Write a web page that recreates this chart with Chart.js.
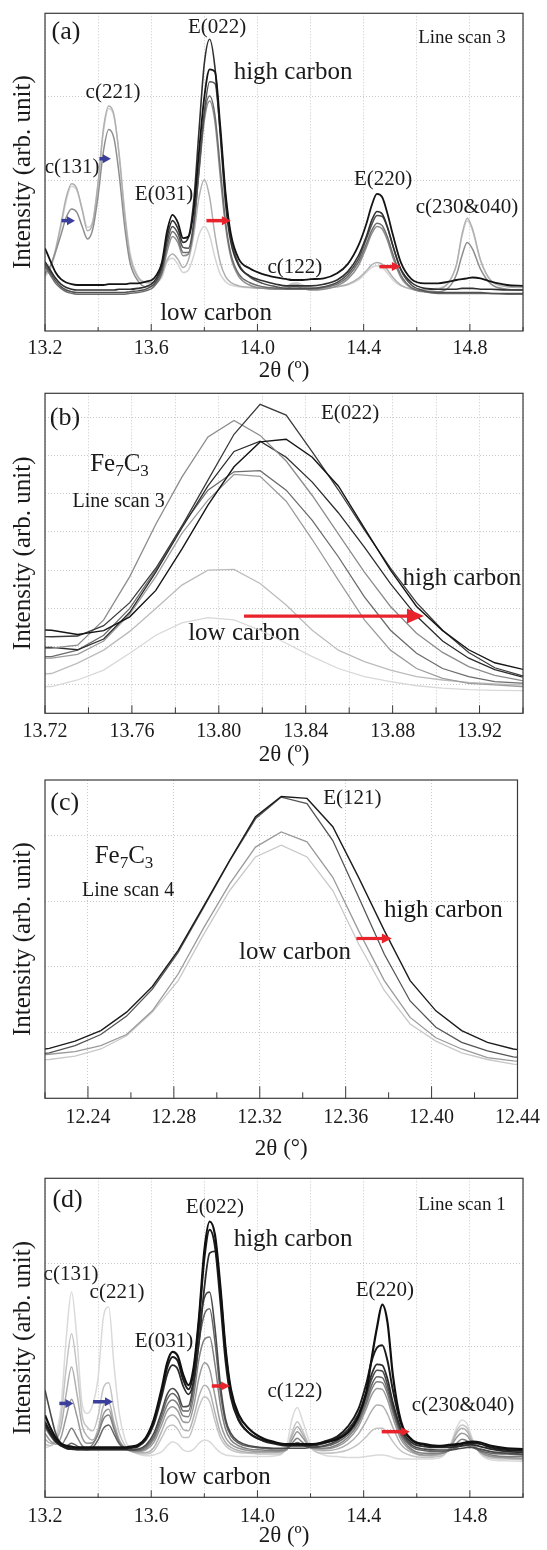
<!DOCTYPE html>
<html><head><meta charset="utf-8">
<script src="https://cdn.jsdelivr.net/npm/chart.js@4.4.1/dist/chart.umd.min.js"></script>
<style>
html,body{margin:0;padding:0;background:#fff;}
body{width:547px;height:1550px;position:relative;overflow:hidden;}
canvas{position:absolute;left:0;}
</style></head><body>
<canvas id="ca" width="547" height="385" style="top:0px;width:547px;height:385px"></canvas>
<canvas id="cb" width="547" height="385" style="top:385px;width:547px;height:385px"></canvas>
<canvas id="cc" width="547" height="393" style="top:770px;width:547px;height:393px"></canvas>
<canvas id="cd" width="547" height="387" style="top:1163px;width:547px;height:387px"></canvas>
<script>
// ---------- DATA ----------
// 2θ sample positions shared by panels (a) and (d)
const twoThetaWide = [13.20,13.22,13.24,13.26,13.28,13.30,13.32,13.34,13.36,13.38,13.40,13.42,13.44,13.46,13.48,13.50,13.52,
  13.55,13.58,13.61,13.64,
  13.66,13.68,13.70,13.72,13.74,13.76,13.78,13.80,13.82,13.84,13.86,13.88,13.90,
  13.93,13.97,14.02,14.07,
  14.11,14.13,14.15,14.17,14.20,
  14.25,14.30,14.34,14.38,
  14.41,14.43,14.45,14.47,14.49,14.51,
  14.54,14.58,14.63,14.68,14.72,
  14.75,14.77,14.79,14.81,
  14.84,14.88,14.94,15.00];

// Panel (a) Line scan 3, high carbon -> low carbon
const scan3_1 = [0.19,0.04,-0.10,-0.18,-0.22,-0.24,-0.25,-0.25,-0.25,-0.25,-0.25,-0.25,-0.24,-0.24,-0.24,-0.24,-0.23,
  -0.23,-0.21,-0.17,0.02,
  0.40,0.59,0.50,0.31,0.33,0.65,1.35,2.00,2.33,2.30,1.65,0.85,0.36,
  0.06,-0.05,-0.12,-0.16,
  -0.18,-0.19,-0.19,-0.19,-0.18,
  -0.17,-0.11,0.00,0.22,
  0.48,0.70,0.84,0.80,0.60,0.35,
  0.02,-0.18,-0.23,-0.23,-0.21,
  -0.19,-0.18,-0.17,-0.16,
  -0.17,-0.21,-0.25,-0.26];
const scan3_2 = [0.03,-0.07,-0.17,-0.24,-0.28,-0.30,-0.31,-0.31,-0.31,-0.31,-0.31,-0.31,-0.31,-0.31,-0.30,-0.30,-0.30,
  -0.29,-0.27,-0.21,-0.02,
  0.33,0.52,0.43,0.26,0.32,0.75,1.60,2.40,2.69,2.35,1.55,0.72,0.26,
  -0.02,-0.14,-0.20,-0.24,
  -0.26,-0.26,-0.26,-0.26,-0.26,
  -0.24,-0.19,-0.09,0.10,
  0.33,0.52,0.63,0.60,0.44,0.22,
  -0.06,-0.22,-0.29,-0.30,-0.30,
  -0.30,-0.29,-0.29,-0.29,
  -0.30,-0.30,-0.31,-0.31];
const scan3_3 = [0.00,-0.10,-0.20,-0.27,-0.31,-0.33,-0.34,-0.34,-0.34,-0.34,-0.34,-0.34,-0.34,-0.34,-0.34,-0.34,-0.33,
  -0.32,-0.30,-0.24,-0.06,
  0.27,0.45,0.37,0.20,0.19,0.50,1.15,1.82,2.18,2.16,1.58,0.82,0.32,
  0.00,-0.15,-0.23,-0.27,
  -0.29,-0.29,-0.29,-0.29,-0.29,
  -0.27,-0.22,-0.12,0.06,
  0.30,0.47,0.58,0.57,0.43,0.22,
  -0.07,-0.25,-0.32,-0.34,-0.34,
  -0.34,-0.34,-0.34,-0.34,
  -0.34,-0.35,-0.35,-0.35];
const scan3_4 = [-0.03,-0.13,-0.23,-0.29,-0.33,-0.35,-0.36,-0.36,-0.36,-0.36,-0.36,-0.36,-0.36,-0.36,-0.36,-0.36,-0.35,
  -0.34,-0.32,-0.27,-0.10,
  0.21,0.39,0.31,0.14,0.14,0.45,1.12,1.78,2.01,1.78,1.15,0.50,0.12,
  -0.12,-0.22,-0.27,-0.29,
  -0.30,-0.30,-0.30,-0.30,-0.30,
  -0.28,-0.24,-0.15,0.02,
  0.24,0.40,0.49,0.46,0.32,0.12,
  -0.13,-0.28,-0.33,-0.35,-0.35,
  -0.35,-0.35,-0.35,-0.35,
  -0.35,-0.35,-0.36,-0.36];
const scan3_5 = [-0.11,-0.02,0.15,0.35,0.56,0.66,0.62,0.45,0.30,0.42,0.82,1.35,1.61,1.50,1.05,0.45,0.02,
  -0.20,-0.27,-0.25,-0.12,
  0.15,0.33,0.26,0.10,0.12,0.45,1.10,1.72,1.95,1.70,1.05,0.45,0.08,
  -0.15,-0.25,-0.29,-0.30,
  -0.29,-0.27,-0.27,-0.29,-0.31,
  -0.30,-0.26,-0.18,-0.02,
  0.20,0.36,0.45,0.42,0.28,0.08,
  -0.16,-0.29,-0.33,-0.33,-0.28,
  -0.12,0.10,0.26,0.18,
  -0.06,-0.24,-0.30,-0.31];
const scan3_6 = [-0.13,-0.03,0.18,0.48,0.80,0.96,0.90,0.65,0.40,0.50,0.98,1.62,1.89,1.78,1.28,0.60,0.10,
  -0.16,-0.22,-0.22,-0.12,
  0.05,0.12,0.06,-0.04,0.05,0.35,0.80,1.01,0.80,0.35,0.02,-0.15,-0.22,
  -0.26,-0.28,-0.29,-0.29,
  -0.27,-0.24,-0.24,-0.27,-0.29,
  -0.29,-0.27,-0.24,-0.17,
  -0.08,-0.01,0.02,0.00,-0.07,-0.16,
  -0.25,-0.30,-0.31,-0.30,-0.22,
  0.00,0.35,0.55,0.42,
  0.05,-0.20,-0.27,-0.28];
const scan3_7 = [-0.15,-0.06,0.14,0.44,0.76,0.93,0.88,0.66,0.44,0.52,0.96,1.58,1.86,1.76,1.30,0.64,0.14,
  -0.14,-0.22,-0.23,-0.16,
  0.03,0.07,0.00,-0.10,-0.07,0.10,0.35,0.45,0.34,0.08,-0.12,-0.21,-0.25,
  -0.27,-0.28,-0.28,-0.28,
  -0.26,-0.23,-0.22,-0.25,-0.28,
  -0.28,-0.27,-0.25,-0.19,
  -0.10,-0.04,-0.02,-0.04,-0.11,-0.19,
  -0.26,-0.29,-0.30,-0.29,-0.22,
  0.00,0.33,0.52,0.40,
  0.04,-0.20,-0.26,-0.27];

// Panel (b) E(022) of Fe7C3, line scan 3
const twoThetaB = [13.711,13.723,13.735,13.747,13.759,13.771,13.783,13.795,13.807,13.819,13.831,13.843,13.855,13.867,13.879,13.891,13.903,13.915,13.927,13.939,13.951];
const e022_1 = [1.46,1.43,1.32,1.42,1.78,2.47,3.55,4.70,5.70,6.35,6.42,5.95,5.20,4.10,3.00,2.05,1.42,0.92,0.58,0.42,0.32];
const e022_2 = [1.28,1.26,1.28,1.55,2.15,3.05,4.15,5.35,6.55,7.33,7.05,6.09,5.10,4.05,3.05,2.15,1.43,0.85,0.45,0.25,0.15];
const e022_3 = [0.95,0.96,1.04,1.70,2.83,4.20,5.43,6.48,6.91,6.52,5.85,4.95,3.95,2.95,2.05,1.35,0.85,0.48,0.25,0.12,0.06];
const e022_4 = [0.98,0.98,0.92,1.20,1.90,2.95,4.10,5.20,6.10,6.37,5.95,5.30,4.50,3.60,2.65,1.80,1.15,0.70,0.40,0.22,0.14];
const e022_5 = [0.75,0.74,0.91,1.30,2.00,3.00,4.15,5.09,5.57,5.60,5.09,4.30,3.35,2.30,1.43,0.83,0.43,0.22,0.09,0.05,0.03];
const e022_6 = [0.70,0.70,0.80,1.15,1.85,2.83,3.96,4.83,5.50,5.45,4.80,3.80,2.74,1.70,0.91,0.43,0.17,0.04,0.00,-0.04,-0.06];
const e022_7 = [0.25,0.30,0.57,0.91,1.40,2.00,2.61,3.00,3.02,2.65,2.09,1.43,0.91,0.61,0.39,0.22,0.13,0.07,0.03,0.00,-0.02];
const e022_8 = [-0.05,-0.04,0.13,0.39,0.83,1.30,1.62,1.76,1.70,1.43,1.09,0.74,0.43,0.22,0.09,-0.02,-0.08,-0.12,-0.14,-0.15,-0.16];

// Panel (c) E(121) of Fe7C3, line scan 4
const twoThetaC = [12.210,12.222,12.234,12.246,12.258,12.270,12.282,12.294,12.306,12.318,12.330,12.342,12.354,12.366,12.378,12.390,12.402,12.414,12.426,12.438,12.450];
const e121_1 = [-0.30,-0.24,-0.13,0.03,0.31,0.70,1.25,1.93,2.62,3.28,3.59,3.56,3.13,2.36,1.55,0.79,0.33,0.03,-0.15,-0.25,-0.30];
const e121_2 = [-0.35,-0.31,-0.20,-0.03,0.25,0.66,1.22,1.91,2.61,3.25,3.58,3.48,2.92,2.06,1.19,0.48,0.08,-0.15,-0.28,-0.37,-0.40];
const e121_3 = [-0.36,-0.33,-0.29,-0.20,-0.03,0.33,0.89,1.60,2.26,2.82,3.05,2.90,2.36,1.55,0.79,0.23,-0.08,-0.25,-0.38,-0.43,-0.45];
const e121_4 = [-0.43,-0.41,-0.36,-0.25,-0.05,0.31,0.79,1.50,2.16,2.67,2.85,2.67,2.16,1.35,0.64,0.13,-0.13,-0.31,-0.41,-0.48,-0.50];

// Panel (d) Line scan 1, high carbon -> low carbon
const scan1_1 = [0.17,0.02,-0.10,-0.17,-0.20,-0.21,-0.22,-0.22,-0.22,-0.22,-0.22,-0.22,-0.22,-0.22,-0.22,-0.22,-0.21,
  -0.19,-0.10,0.12,0.50,
  0.80,0.93,0.88,0.66,0.53,0.75,1.35,2.15,2.50,2.34,1.73,0.97,0.48,
  0.17,0.00,-0.11,-0.16,
  -0.18,-0.18,-0.18,-0.18,-0.18,
  -0.16,-0.12,-0.04,0.15,
  0.45,0.85,1.22,1.50,1.28,0.65,
  0.10,-0.12,-0.18,-0.20,-0.19,
  -0.18,-0.17,-0.155,-0.15,
  -0.16,-0.20,-0.23,-0.24];
const scan1_2 = [0.09,-0.03,-0.13,-0.19,-0.22,-0.23,-0.23,-0.23,-0.23,-0.23,-0.23,-0.23,-0.23,-0.23,-0.23,-0.23,-0.22,
  -0.20,-0.11,0.10,0.46,
  0.74,0.87,0.82,0.60,0.48,0.70,1.30,2.05,2.40,2.20,1.55,0.82,0.38,
  0.10,-0.05,-0.13,-0.17,
  -0.19,-0.19,-0.19,-0.19,-0.19,
  -0.15,-0.09,0.03,0.24,
  0.55,0.82,0.98,1.01,0.82,0.47,
  0.07,-0.13,-0.19,-0.21,-0.20,
  -0.19,-0.18,-0.17,-0.165,
  -0.18,-0.22,-0.25,-0.26];
const scan1_3 = [0.05,-0.06,-0.15,-0.20,-0.23,-0.24,-0.24,-0.24,-0.24,-0.24,-0.24,-0.24,-0.24,-0.24,-0.24,-0.24,-0.23,
  -0.21,-0.13,0.06,0.40,
  0.66,0.77,0.72,0.52,0.42,0.58,1.05,1.70,2.12,2.14,1.68,0.95,0.45,
  0.12,-0.05,-0.14,-0.18,
  -0.20,-0.20,-0.20,-0.20,-0.20,
  -0.17,-0.11,-0.01,0.18,
  0.44,0.66,0.78,0.77,0.60,0.32,
  0.01,-0.16,-0.21,-0.22,-0.22,
  -0.21,-0.20,-0.19,-0.19,
  -0.21,-0.24,-0.27,-0.28];
const scan1_4 = [0.47,0.20,-0.05,-0.18,-0.23,-0.24,-0.25,-0.25,-0.25,-0.25,-0.25,-0.25,-0.25,-0.25,-0.25,-0.25,-0.25,
  -0.24,-0.19,-0.05,0.22,
  0.42,0.49,0.43,0.27,0.28,0.58,1.20,1.58,1.65,1.22,0.55,0.12,-0.05,
  -0.15,-0.20,-0.22,-0.23,
  -0.23,-0.23,-0.23,-0.23,-0.22,
  -0.20,-0.14,-0.04,0.14,
  0.39,0.60,0.71,0.70,0.53,0.27,
  -0.02,-0.19,-0.24,-0.25,-0.25,
  -0.24,-0.23,-0.22,-0.22,
  -0.24,-0.27,-0.29,-0.30];
const scan1_5 = [0.08,-0.04,-0.14,-0.20,-0.20,-0.17,-0.20,-0.24,-0.25,-0.22,-0.13,0.01,0.05,-0.06,-0.18,-0.23,-0.25,
  -0.25,-0.21,-0.09,0.17,
  0.36,0.43,0.37,0.22,0.22,0.50,1.05,1.38,1.45,1.05,0.45,0.08,-0.08,
  -0.17,-0.21,-0.23,-0.24,
  -0.23,-0.19,-0.16,-0.19,-0.22,
  -0.21,-0.16,-0.07,0.10,
  0.34,0.53,0.63,0.62,0.47,0.23,
  -0.05,-0.21,-0.26,-0.27,-0.26,
  -0.22,-0.20,-0.20,-0.22,
  -0.26,-0.29,-0.30,-0.31];
const scan1_6 = [0.02,-0.08,-0.16,-0.19,-0.10,0.01,-0.09,-0.20,-0.23,-0.18,-0.06,0.12,0.17,0.00,-0.16,-0.23,-0.25,
  -0.26,-0.23,-0.12,0.12,
  0.29,0.35,0.30,0.16,0.15,0.40,0.85,1.08,1.11,0.78,0.30,0.00,-0.13,
  -0.20,-0.24,-0.25,-0.26,
  -0.24,-0.17,-0.11,-0.16,-0.22,
  -0.23,-0.19,-0.10,0.07,
  0.30,0.48,0.57,0.56,0.42,0.20,
  -0.08,-0.24,-0.29,-0.29,-0.26,
  -0.17,-0.12,-0.14,-0.20,
  -0.27,-0.31,-0.33,-0.33];
const scan1_7 = [-0.05,-0.14,-0.18,-0.10,0.15,0.36,0.16,-0.10,-0.17,-0.16,-0.05,0.18,0.24,0.03,-0.15,-0.23,-0.26,
  -0.27,-0.25,-0.16,0.06,
  0.22,0.27,0.22,0.09,0.08,0.28,0.62,0.80,0.72,0.40,0.08,-0.10,-0.18,
  -0.23,-0.26,-0.27,-0.27,
  -0.25,-0.13,-0.03,-0.10,-0.22,
  -0.24,-0.21,-0.13,0.03,
  0.25,0.41,0.49,0.48,0.35,0.14,
  -0.12,-0.26,-0.31,-0.30,-0.25,
  -0.10,-0.05,-0.08,-0.18,
  -0.28,-0.33,-0.34,-0.35];
const scan1_8 = [-0.12,-0.17,-0.14,0.02,0.43,0.75,0.43,0.04,-0.09,-0.13,0.00,0.28,0.32,0.08,-0.13,-0.22,-0.26,
  -0.28,-0.28,-0.22,-0.02,
  0.13,0.17,0.12,0.00,-0.02,0.15,0.40,0.53,0.46,0.20,-0.04,-0.16,-0.22,
  -0.26,-0.28,-0.28,-0.28,
  -0.24,-0.08,0.03,-0.06,-0.22,
  -0.26,-0.24,-0.18,-0.06,
  0.10,0.22,0.29,0.28,0.18,0.02,
  -0.18,-0.28,-0.32,-0.31,-0.24,
  -0.05,0.01,-0.03,-0.16,
  -0.28,-0.33,-0.35,-0.36];
const scan1_9 = [-0.18,-0.20,-0.13,0.14,0.74,1.15,0.74,0.16,0.02,-0.02,0.16,0.50,0.56,0.24,-0.05,-0.19,-0.26,
  -0.29,-0.30,-0.26,-0.10,
  0.02,0.05,0.00,-0.10,-0.10,0.05,0.27,0.39,0.33,0.10,-0.10,-0.20,-0.25,
  -0.28,-0.29,-0.30,-0.30,
  -0.24,-0.04,0.09,-0.02,-0.22,
  -0.29,-0.28,-0.25,-0.18,
  -0.09,-0.02,0.01,0.01,-0.05,-0.15,
  -0.26,-0.32,-0.34,-0.33,-0.25,
  -0.02,0.05,0.01,-0.14,
  -0.29,-0.35,-0.36,-0.37];
const scan1_10 = [-0.22,-0.20,-0.09,0.26,1.10,1.65,1.10,0.30,0.19,0.30,0.62,1.35,1.47,0.76,0.18,-0.11,-0.24,
  -0.30,-0.32,-0.31,-0.27,
  -0.20,-0.15,-0.18,-0.25,-0.27,-0.24,-0.17,-0.13,-0.15,-0.22,-0.28,-0.31,-0.32,
  -0.33,-0.33,-0.33,-0.32,
  -0.20,0.12,0.26,0.10,-0.18,
  -0.31,-0.33,-0.34,-0.34,
  -0.33,-0.32,-0.31,-0.31,-0.32,-0.34,
  -0.36,-0.36,-0.36,-0.35,-0.24,
  0.02,0.11,0.06,-0.12,
  -0.30,-0.37,-0.38,-0.39];

// Axis ticks / labels
const gridWide = [13.2,13.4,13.6,13.8,14.0,14.2,14.4,14.6,14.8,15.0];
const labelsWide = ['13.2','13.6','14.0','14.4','14.8'];
const gridB = [13.72,13.74,13.76,13.78,13.80,13.82,13.84,13.86,13.88,13.90,13.92,13.94];
const labelsB = ['13.72','13.76','13.80','13.84','13.88','13.92'];
const gridC = [12.22,12.24,12.26,12.28,12.30,12.32,12.34,12.36,12.38,12.40,12.42,12.44];
const labelsC = ['12.24','12.28','12.32','12.36','12.40','12.44'];
const yGridA = [0,1,2];
const yGridB = [0,1,2,3,4,5,6,7];
const yGridC = [0,1,2,3];
const yGridD = [0,1,2];

// ---------- RENDERING ----------
const FONT = "'Liberation Serif', 'Times New Roman', serif";
const INK = '#1a1a1a';
const GRID = '#c9c9c9';
const RED = '#e8232b';
const BLUE = '#3b3f9c';
Chart.defaults.font.family = FONT;
Chart.defaults.color = INK;

function labelFor(v, labels) {
  const s = labels.find(l => Math.abs(parseFloat(l) - v) < 1e-6);
  return s === undefined ? '' : s;
}

function drawParts(ctx, parts, px, py, size) {
  const subSize = Math.round(size * 0.68);
  let total = 0;
  parts.forEach(p => { ctx.font = (p.sub ? subSize : size) + 'px ' + FONT; total += ctx.measureText(p.t).width; });
  let cx = px - total / 2;
  ctx.textAlign = 'left';
  parts.forEach(p => {
    ctx.font = (p.sub ? subSize : size) + 'px ' + FONT;
    ctx.fillText(p.t, cx, p.sub ? py + size * 0.28 : py);
    cx += ctx.measureText(p.t).width;
  });
}

function drawArrow(ctx, x1, x2, y, color, lw, hl, hw) {
  ctx.strokeStyle = color; ctx.fillStyle = color; ctx.lineWidth = lw;
  ctx.beginPath(); ctx.moveTo(x1, y); ctx.lineTo(x2 - hl * 0.7, y); ctx.stroke();
  ctx.beginPath(); ctx.moveTo(x2, y); ctx.lineTo(x2 - hl, y - hw); ctx.lineTo(x2 - hl, y + hw); ctx.closePath(); ctx.fill();
}

const panelDecor = {
  id: 'panelDecor',
  beforeDatasetsDraw(chart, args, opts) {
    const {ctx, scales: {x, y}} = chart;
    ctx.save();
    ctx.fillStyle = INK;
    ctx.textBaseline = 'middle';
    (opts.texts || []).forEach(t => {
      const px = x.getPixelForValue(t.x), py = y.getPixelForValue(t.y);
      if (t.parts) { drawParts(ctx, t.parts, px, py, t.size); }
      else { ctx.font = t.size + 'px ' + FONT; ctx.textAlign = 'center'; ctx.fillText(t.text, px, py); }
    });
    ctx.restore();
  },
  afterDatasetsDraw(chart, args, opts) {
    const {ctx, chartArea: a, scales: {x, y}} = chart;
    ctx.save();
    ctx.strokeStyle = '#3a3a3a'; ctx.lineWidth = 1.2;
    ctx.strokeRect(a.left, a.top, a.right - a.left, a.bottom - a.top);
    ctx.lineWidth = 1;
    x.ticks.forEach(t => {
      const p = x.getPixelForValue(t.value);
      const len = labelFor(t.value, opts.labels) ? opts.majorLen : opts.minorLen;
      ctx.beginPath(); ctx.moveTo(p, a.bottom); ctx.lineTo(p, a.bottom - len); ctx.stroke();
    });
    (opts.arrows || []).forEach(r => {
      drawArrow(ctx, x.getPixelForValue(r.x1), x.getPixelForValue(r.x2), y.getPixelForValue(r.y),
        r.color, r.lw, r.hl, r.hw);
    });
    ctx.restore();
  }
};

function buildChart(id, cfg) {
  return new Chart(document.getElementById(id), {
    type: 'line',
    data: {
      datasets: cfg.series.map((ys, i) => ({
        data: cfg.xs.map((xv, j) => ({x: xv, y: ys[j]})),
        borderColor: cfg.colors[i],
        borderWidth: cfg.widths[i],
        pointRadius: 0,
        fill: false,
        tension: cfg.smooth ? 0.4 : 0,
        cubicInterpolationMode: cfg.smooth ? 'monotone' : 'default'
      }))
    },
    options: {
      responsive: false, animation: false, devicePixelRatio: 1, events: [],
      layout: {padding: {top: cfg.padTop, right: 24, left: 0, bottom: 0}},
      plugins: {
        legend: {display: false}, tooltip: {enabled: false},
        panelDecor: {texts: cfg.texts, arrows: cfg.arrows, labels: cfg.xLabels,
          majorLen: cfg.majorLen, minorLen: cfg.minorLen}
      },
      scales: {
        x: {
          type: 'linear', min: cfg.xmin, max: cfg.xmax,
          afterBuildTicks: s => { s.ticks = cfg.xGrid.map(v => ({value: v})); },
          afterFit: s => { s.height = cfg.xAxisH; },
          ticks: {autoSkip: false, maxRotation: 0, minRotation: 0, padding: cfg.tickPad,
            font: {size: 20, family: FONT}, color: INK, callback: v => labelFor(v, cfg.xLabels)},
          grid: {drawTicks: false, lineWidth: 1,
            color: c => (cfg.majorGridOnly && c.tick && !labelFor(c.tick.value, cfg.xLabels)) ? 'rgba(0,0,0,0)' : GRID},
          border: {display: false, dash: [1, 2]},
          title: {display: true, text: cfg.xTitle, font: {size: 23, family: FONT}, color: INK,
            padding: {top: 0, bottom: cfg.titlePadB}}
        },
        y: {
          min: cfg.ymin, max: cfg.ymax,
          afterBuildTicks: s => { s.ticks = cfg.yGrid.map(v => ({value: v})); },
          afterFit: s => { s.width = 45; },
          ticks: {display: false},
          grid: {drawTicks: false, color: GRID, lineWidth: 1},
          border: {display: false, dash: [1, 2]},
          title: {display: true, text: 'Intensity (arb. unit)', font: {size: 25, family: FONT}, color: INK,
            padding: {top: 8, bottom: 0}}
        }
      }
    },
    plugins: [panelDecor]
  });
}

const fe7c3 = [{t: 'Fe'}, {t: '7', sub: true}, {t: 'C'}, {t: '3', sub: true}];

buildChart('ca', {
  xs: twoThetaWide,
  series: [scan3_1, scan3_2, scan3_3, scan3_4, scan3_5, scan3_6, scan3_7],
  colors: ['#141414', '#303030', '#505050', '#6e6e6e', '#8e8e8e', '#b0b0b0', '#d4d4d4'],
  widths: [1.8, 1.6, 1.5, 1.5, 1.5, 1.5, 1.5],
  smooth: true, xmin: 13.2, xmax: 15.0, ymin: -0.8, ymax: 3.0,
  padTop: 13.3, xAxisH: 54, tickPad: 6, titlePadB: 0, majorLen: 7, minorLen: 4,
  xGrid: gridWide, xLabels: labelsWide, yGrid: yGridA, xTitle: '2θ (º)',
  texts: [
    {text: '(a)', x: 13.279, y: 2.77, size: 26},
    {text: 'E(022)', x: 13.848, y: 2.83, size: 21},
    {text: 'high carbon', x: 14.134, y: 2.29, size: 25},
    {text: 'Line scan 3', x: 14.77, y: 2.71, size: 19},
    {text: 'c(221)', x: 13.456, y: 2.05, size: 21},
    {text: 'c(131)', x: 13.302, y: 1.15, size: 21},
    {text: 'E(031)', x: 13.648, y: 0.83, size: 21},
    {text: 'E(220)', x: 14.473, y: 1.01, size: 21},
    {text: 'c(230&040)', x: 14.789, y: 0.68, size: 21},
    {text: 'c(122)', x: 14.141, y: -0.04, size: 21},
    {text: 'low carbon', x: 13.844, y: -0.59, size: 25}
  ],
  arrows: [
    {x1: 13.262, x2: 13.313, y: 0.52, color: BLUE, lw: 3.5, hl: 8, hw: 4.5},
    {x1: 13.405, x2: 13.448, y: 1.26, color: BLUE, lw: 3.5, hl: 8, hw: 4.5},
    {x1: 13.808, x2: 13.900, y: 0.52, color: RED, lw: 3.5, hl: 9, hw: 4.5},
    {x1: 14.459, x2: 14.540, y: -0.03, color: RED, lw: 3.5, hl: 9, hw: 4.5}
  ]
});

buildChart('cb', {
  xs: twoThetaB,
  series: [e022_1, e022_2, e022_3, e022_4, e022_5, e022_6, e022_7, e022_8],
  colors: ['#151515', '#3c3c3c', '#8c8c8c', '#2c2c2c', '#6c6c6c', '#9c9c9c', '#bcbcbc', '#d8d8d8'],
  widths: [1.4, 1.3, 1.3, 1.3, 1.3, 1.3, 1.3, 1.3],
  smooth: false, xmin: 13.72, xmax: 13.94, ymin: -0.74, ymax: 7.62,
  padTop: 8.3, xAxisH: 56.7, tickPad: 6.4, titlePadB: 1.2, majorLen: 8, minorLen: 6,
  xGrid: gridB, xLabels: labelsB, yGrid: yGridB, xTitle: '2θ (º)',
  texts: [
    {text: '(b)', x: 13.7292, y: 6.97, size: 26},
    {text: 'E(022)', x: 13.8604, y: 7.10, size: 21},
    {parts: fe7c3, x: 13.7543, y: 5.75, size: 25},
    {text: 'Line scan 3', x: 13.7539, y: 4.79, size: 20},
    {text: 'high carbon', x: 13.9119, y: 2.79, size: 25},
    {text: 'low carbon', x: 13.8116, y: 1.35, size: 25}
  ],
  arrows: [
    {x1: 13.8116, x2: 13.8944, y: 1.80, color: RED, lw: 3.2, hl: 17, hw: 7.5}
  ]
});

buildChart('cc', {
  xs: twoThetaC,
  series: [e121_1, e121_2, e121_3, e121_4],
  colors: ['#1c1c1c', '#555555', '#9a9a9a', '#c8c8c8'],
  widths: [1.4, 1.3, 1.3, 1.3],
  smooth: false, xmin: 12.22, xmax: 12.44, ymin: -1.0, ymax: 3.84,
  padTop: 10, xAxisH: 64.7, tickPad: 7, titlePadB: 0, majorGridOnly: true, majorLen: 12, minorLen: 6,
  xGrid: gridC, xLabels: labelsC, yGrid: yGridC, xTitle: '2θ (°)',
  texts: [
    {text: '(c)', x: 12.2292, y: 3.49, size: 26},
    {text: 'E(121)', x: 12.3631, y: 3.56, size: 21},
    {parts: fe7c3, x: 12.2568, y: 2.68, size: 25},
    {text: 'Line scan 4', x: 12.2587, y: 2.16, size: 20},
    {text: 'high carbon', x: 12.4055, y: 1.86, size: 25},
    {text: 'low carbon', x: 12.3364, y: 1.22, size: 25}
  ],
  arrows: [
    {x1: 12.365, x2: 12.3815, y: 1.43, color: RED, lw: 3.2, hl: 10, hw: 5}
  ]
});

buildChart('cd', {
  xs: twoThetaWide,
  series: [scan1_1, scan1_2, scan1_3, scan1_4, scan1_5, scan1_6, scan1_7, scan1_8, scan1_9, scan1_10],
  colors: ['#101010', '#1c1c1c', '#2c2c2c', '#4a4a4a', '#666666', '#808080', '#999999', '#b0b0b0', '#c4c4c4', '#dadada'],
  widths: [2.2, 2.0, 1.8, 1.6, 1.5, 1.5, 1.5, 1.5, 1.5, 1.5],
  smooth: true, xmin: 13.2, xmax: 15.0, ymin: -0.82, ymax: 3.02,
  padTop: 15.3, xAxisH: 52.7, tickPad: 7.4, titlePadB: 0, majorLen: 7, minorLen: 4,
  xGrid: gridWide, xLabels: labelsWide, yGrid: yGridD, xTitle: '2θ (º)',
  texts: [
    {text: '(d)', x: 13.285, y: 2.76, size: 26},
    {text: 'E(022)', x: 13.840, y: 2.67, size: 21},
    {text: 'high carbon', x: 14.134, y: 2.28, size: 25},
    {text: 'Line scan 1', x: 14.77, y: 2.70, size: 19},
    {text: 'c(131)', x: 13.298, y: 1.86, size: 21},
    {text: 'c(221)', x: 13.471, y: 1.64, size: 21},
    {text: 'E(031)', x: 13.648, y: 1.05, size: 21},
    {text: 'E(220)', x: 14.480, y: 1.67, size: 21},
    {text: 'c(122)', x: 14.141, y: 0.45, size: 21},
    {text: 'c(230&040)', x: 14.774, y: 0.29, size: 21},
    {text: 'low carbon', x: 13.840, y: -0.58, size: 25}
  ],
  arrows: [
    {x1: 13.254, x2: 13.307, y: 0.31, color: BLUE, lw: 3.5, hl: 8, hw: 4.5},
    {x1: 13.381, x2: 13.456, y: 0.33, color: BLUE, lw: 3.5, hl: 8, hw: 4.5},
    {x1: 13.828, x2: 13.897, y: 0.52, color: RED, lw: 3.5, hl: 9, hw: 4.5},
    {x1: 14.468, x2: 14.574, y: -0.03, color: RED, lw: 3.5, hl: 9, hw: 4.5}
  ]
});
</script>
</body></html>
